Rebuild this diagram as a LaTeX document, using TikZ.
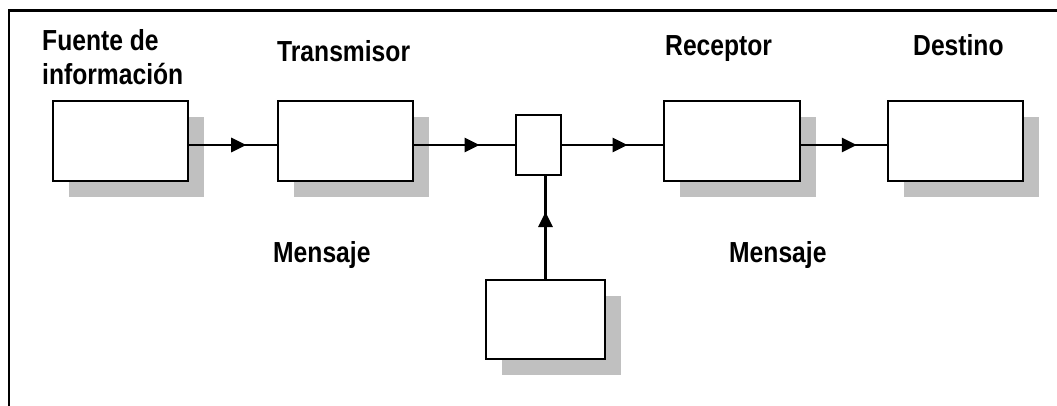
\documentclass[tikz,border=0pt]{standalone}
\usepackage{fontspec}
\setmainfont{Liberation Sans}[FakeStretch=0.85]
\usetikzlibrary{shadows,decorations.markings,arrows.meta}
\definecolor{shadowgray}{RGB}{192,192,192}
\begin{document}
\begin{tikzpicture}[x=1pt,y=-1pt,
  box/.style={draw=black, line width=2pt, fill=white, inner sep=0pt, anchor=north west,
    drop shadow={shadow xshift=16pt, shadow yshift=-16pt, fill=shadowgray, opacity=1}},
  plainbox/.style={draw=black, line width=2pt, fill=white, inner sep=0pt, anchor=north west},
  lbl/.style={inner sep=0pt, anchor=base west, font=\fontsize{29}{33}\selectfont\bfseries},
  conn/.style={line width=2.8pt, decoration={markings, mark=at position 0.65 with {\arrow{Triangle[length=15pt,width=14pt]}}}, postaction=decorate},
  frame/.style={line width=2.2pt}]
\useasboundingbox (0,0) rectangle (1057,406);
\draw[frame] (9,406) -- (9,10.5) -- (1057,10.5);

\node[box, minimum width=135pt, minimum height=80pt] (src) at (52,100) {};
\node[box, minimum width=135pt, minimum height=80pt] (tx) at (277,100) {};
\node[box, minimum width=136pt, minimum height=80pt] (rx) at (663,100) {};
\node[box, minimum width=135pt, minimum height=80pt] (dst) at (887,100) {};
\node[plainbox, minimum width=45pt, minimum height=60pt] (ch) at (515,114) {};
\node[box, minimum width=119pt, minimum height=79pt] (noise) at (485,279) {};

\draw[conn] (src.east |- ch.west) -- (tx.west |- ch.west);
\draw[conn] (tx.east |- ch.west) -- (ch.west);
\draw[conn] (ch.east) -- (rx.west |- ch.east);
\draw[conn] (rx.east |- ch.east) -- (dst.west |- ch.east);
\draw[conn] (noise.north) -- (noise.north |- ch.south);

\node[lbl] (l1) at (42,51) {Fuente de};
\node[lbl] (l2) at (42,85) {información};
\node[lbl] (l3) at (277,62) {Transmisor};
\node[lbl] (l4) at (665,56) {Receptor};
\node[lbl] (l5) at (913,56) {Destino};
\node[lbl] (l6) at (273,262) {Mensaje};
\node[lbl] (l7) at (729,262) {Mensaje};
\end{tikzpicture}
\end{document}
